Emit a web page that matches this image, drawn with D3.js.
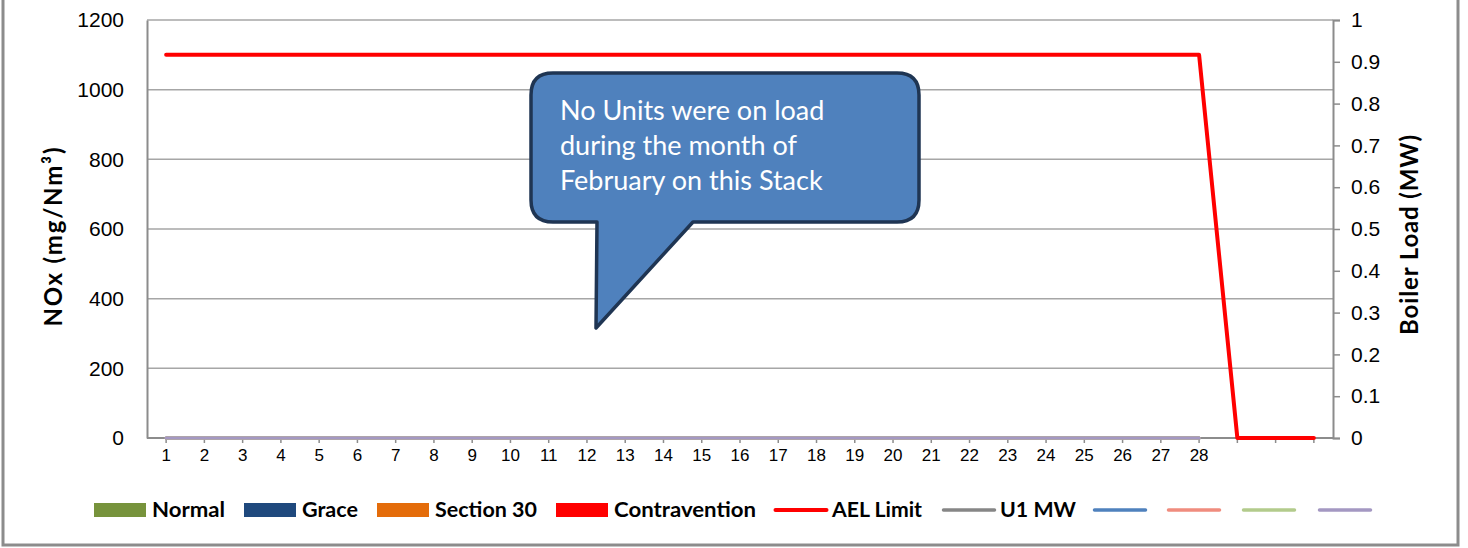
<!DOCTYPE html>
<html><head><meta charset="utf-8">
<script src="https://cdn.jsdelivr.net/npm/d3@7"></script>
<style>
html,body{margin:0;padding:0;background:#fff;}
svg{display:block;font-family:Lato,"Open Sans",sans-serif;}
</style></head>
<body><svg id="c" width="1468" height="548"></svg>
<script>
// ---- data ----
const days = d3.range(1, 32);
const dayLabels = days.map(d => d <= 28 ? String(d) : "");
const leftTicks = [0, 200, 400, 600, 800, 1000, 1200];
const rightTicks = [0, 0.1, 0.2, 0.3, 0.4, 0.5, 0.6, 0.7, 0.8, 0.9, 1];
const normal = [];        // no bars this month
const grace = [];
const section30 = [];
const contravention = [];
const aelLimit = [1100,1100,1100,1100,1100,1100,1100,1100,1100,1100,1100,1100,1100,1100,1100,1100,1100,1100,1100,1100,1100,1100,1100,1100,1100,1100,1100,1100,0,0,0];
const u1MW = [0,0,0,0,0,0,0,0,0,0,0,0,0,0,0,0,0,0,0,0,0,0,0,0,0,0,0,0];
const extra1 = [0,0,0,0,0,0,0,0,0,0,0,0,0,0,0,0,0,0,0,0,0,0,0,0,0,0,0,0];
const extra2 = [0,0,0,0,0,0,0,0,0,0,0,0,0,0,0,0,0,0,0,0,0,0,0,0,0,0,0,0];
const extra3 = [0,0,0,0,0,0,0,0,0,0,0,0,0,0,0,0,0,0,0,0,0,0,0,0,0,0,0,0];
const extra4 = [0,0,0,0,0,0,0,0,0,0,0,0,0,0,0,0,0,0,0,0,0,0,0,0,0,0,0,0];
const legendNames = ["Normal","Grace","Section 30","Contravention","AEL Limit","U1 MW","","","",""];
const annotation = ["No Units were on load","during the month of","February on this Stack"];

// ---- layout ----
const L = 147, R = 1333, T = 20, B = 438;
const svg = d3.select("#c");
const gridCol = "#a6a6a6", axisCol = "#8c8c8c";

svg.append("rect").attr("x",3).attr("y",-10).attr("width",1455).attr("height",555)
  .attr("fill","#fff").attr("stroke","#8c8c8c").attr("stroke-width",3);

const x = d3.scaleBand().domain(days).range([L, R]).padding(0);
const xc = d => x(d) + x.bandwidth()/2;
const yL = d3.scaleLinear().domain([0,1200]).range([B,T]);
const yR = d3.scaleLinear().domain([0,1]).range([B,T]);

// gridlines
svg.append("g").selectAll("line").data(leftTicks.filter(v=>v>0)).join("line")
  .attr("x1",L).attr("x2",R).attr("y1",d=>yL(d)).attr("y2",d=>yL(d))
  .attr("stroke",gridCol).attr("stroke-width",1.5);

// left axis
const gL = svg.append("g").attr("transform",`translate(${L},0)`)
  .call(d3.axisLeft(yL).tickValues(leftTicks).tickSize(0).tickPadding(23).tickFormat(d3.format("d")));
gL.select(".domain").attr("stroke",axisCol).attr("stroke-width",2);
gL.selectAll("text").attr("font-size",21).attr("fill","#000");

// right axis
const gR = svg.append("g").attr("transform",`translate(${R},0)`)
  .call(d3.axisRight(yR).tickValues(rightTicks).tickSize(7).tickPadding(11).tickFormat(d=>String(+d.toFixed(1))));
gR.select(".domain").attr("stroke",axisCol).attr("stroke-width",2);
gR.selectAll("line").attr("stroke",axisCol).attr("stroke-width",1.5);
gR.selectAll("text").attr("font-size",21).attr("fill","#000");

// bottom axis
const gB = svg.append("g").attr("transform",`translate(0,${B})`)
  .call(d3.axisBottom(x).tickSize(5).tickPadding(6).tickFormat((d,i)=>dayLabels[i]));
gB.select(".domain").attr("stroke",axisCol).attr("stroke-width",2).attr("d",`M${L},0H${R}`);
gB.selectAll("line").attr("stroke",axisCol).attr("stroke-width",1.5);
gB.selectAll("text").attr("font-size",17).attr("fill","#000");

// axis titles
svg.append("text").attr("transform",`translate(62,237) rotate(-90)`).attr("text-anchor","middle")
  .attr("font-weight","bold").attr("font-size",24).attr("textLength",179).attr("lengthAdjust","spacing").text("NOx (mg/Nm³)");
svg.append("text").attr("transform",`translate(1418,235) rotate(-90)`).attr("text-anchor","middle")
  .attr("font-weight","bold").attr("font-size",24).attr("textLength",200).attr("lengthAdjust","spacing").text("Boiler Load (MW)");

// lines
const lineL = d3.line().x((d,i)=>xc(days[i])).y(d=>yL(d));
const lineR = d3.line().x((d,i)=>xc(days[i])).y(d=>yR(d));
const lineSeries = [
  {data:aelLimit, col:"#ff0000", w:4, gen:lineL},
  {data:u1MW, col:"#868686", w:3, gen:lineR},
  {data:extra1, col:"#4f81bd", w:3, gen:lineL},
  {data:extra2, col:"#f08c7e", w:3, gen:lineL},
  {data:extra3, col:"#b3cb8c", w:3, gen:lineL},
  {data:extra4, col:"#a498c2", w:3, gen:lineL},
];
lineSeries.forEach(s=>{
  svg.append("path").attr("d",s.gen(s.data)).attr("fill","none")
    .attr("stroke",s.col).attr("stroke-width",s.w).attr("stroke-linejoin","round").attr("stroke-linecap","round");
});

// legend
const legendX = [94,244,377,556,774,942,1093,1167,1242,1318];
const legendTextW = [73,56,102,142,90,76];
const legendKinds = ["rect","rect","rect","rect","line","line","line","line","line","line"];
const legendCols = ["#77933c","#1f497d","#e46c0a","#ff0000","#ff0000","#868686","#4f81bd","#f08c7e","#b3cb8c","#a498c2"];
const lg = svg.append("g");
legendNames.forEach((n,i)=>{
  const x0 = legendX[i], yc = 510;
  if (legendKinds[i]==="rect") {
    lg.append("rect").attr("x",x0).attr("y",yc-7).attr("width",52).attr("height",14).attr("fill",legendCols[i]);
  } else {
    lg.append("line").attr("x1",x0+1.5).attr("x2",x0+52.5).attr("y1",yc).attr("y2",yc)
      .attr("stroke",legendCols[i]).attr("stroke-width",i===4?4:3.5).attr("stroke-linecap","round");
  }
  if (n) {
    lg.append("text").attr("x",x0+58).attr("y",yc+7).attr("font-weight","bold").attr("font-size",21)
      .attr("textLength",legendTextW[i]).attr("lengthAdjust","spacingAndGlyphs").text(n);
  }
});

// callout
const c = {l:531,t:73,r:919,b:222,rad:22,tl:597,tr:693,tipx:596,tipy:328};
const p = `M${c.l+c.rad},${c.t}H${c.r-c.rad}Q${c.r},${c.t} ${c.r},${c.t+c.rad}V${c.b-c.rad}Q${c.r},${c.b} ${c.r-c.rad},${c.b}`+
  `H${c.tr}L${c.tipx},${c.tipy}L${c.tl},${c.b}H${c.l+c.rad}Q${c.l},${c.b} ${c.l},${c.b-c.rad}V${c.t+c.rad}Q${c.l},${c.t} ${c.l+c.rad},${c.t}Z`;
svg.append("path").attr("d",p).attr("fill","#4f81bd").attr("stroke","#1f3553").attr("stroke-width",3.5).attr("stroke-linejoin","round");
annotation.forEach((t,i)=>{
  svg.append("text").attr("x",560).attr("y",120+i*35).attr("fill","#fff").attr("font-size",27).text(t);
});
</script></body></html>
